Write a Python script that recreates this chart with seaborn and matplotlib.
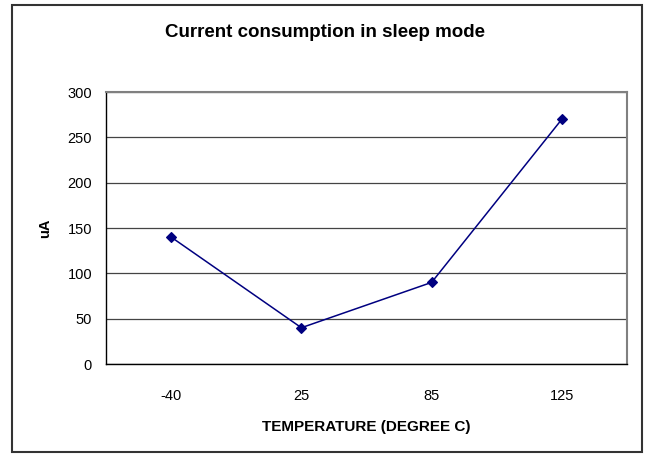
import pandas as pd
import seaborn as sns
import matplotlib.pyplot as plt
from matplotlib.patches import Rectangle

# Datos
temperatures = ['-40', '25', '85', '125']
current_ua = [140, 40, 90, 270]
y_ticks = [0, 50, 100, 150, 200, 250, 300]

data = pd.DataFrame({'temp': temperatures, 'uA': current_ua})

sns.set_style('white')
plt.rcParams['font.family'] = ['Liberation Sans', 'DejaVu Sans']
plt.rcParams['text.color'] = 'black'
plt.rcParams['axes.labelcolor'] = 'black'
plt.rcParams['xtick.color'] = 'black'
plt.rcParams['ytick.color'] = 'black'

fig = plt.figure(figsize=(6.47, 4.55), dpi=100)
ax = fig.add_axes([0.1638, 0.2, 0.8053, 0.5978])

sns.pointplot(data=data, x='temp', y='uA', order=temperatures, color='#000080',
              markers='D', markersize=5, linewidth=1.1, ax=ax)

ax.set_xlim(-0.5, len(temperatures) - 0.5)
ax.set_ylim(0, 300)
ax.set_yticks(y_ticks)
ax.yaxis.grid(True, color='#444444', linewidth=0.9)
ax.set_axisbelow(True)

# Marcas del eje x entre categorias
ax.set_xticks([i - 0.5 for i in range(len(temperatures) + 1)], minor=True)
ax.tick_params(axis='x', which='major', length=0, pad=18, labelsize=10.5)
ax.tick_params(axis='x', which='minor', length=4, width=1, color='black', direction='out')
ax.tick_params(axis='y', length=4, width=1, color='black', direction='out', labelsize=10.5, pad=6)

for side in ['left', 'bottom']:
    ax.spines[side].set_color('black')
    ax.spines[side].set_linewidth(1)
for side in ['top', 'right']:
    ax.spines[side].set_color('#808080')
    ax.spines[side].set_linewidth(1.5)

ax.set_xlabel('TEMPERATURE (DEGREE C)', fontsize=11, fontweight='bold', labelpad=12)
ax.set_ylabel('uA', fontsize=10.5, fontweight='bold', labelpad=11)
fig.text(0.502, 0.928, 'Current consumption in sleep mode', ha='center', va='center',
         fontsize=13.5, fontweight='bold')

# Borde exterior
fig.patches.append(Rectangle((12 / 647, 3 / 455), 630 / 647, 447 / 455,
                             transform=fig.transFigure, fill=False,
                             edgecolor='#333333', linewidth=1.5))

plt.savefig('out.png', dpi=100)
plt.close()
